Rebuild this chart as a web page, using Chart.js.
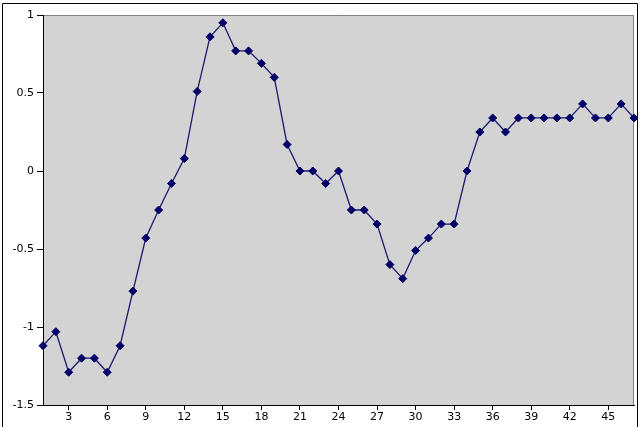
<!DOCTYPE html>
<html>
<head>
<meta charset="utf-8">
<script src="https://cdn.jsdelivr.net/npm/chart.js@4"></script>
<style>
  html, body { margin: 0; padding: 0; background: #fff; }
  #wrap { width: 640px; height: 427px; position: relative; }
</style>
</head>
<body>
<div id="wrap"><canvas id="myChart" width="640" height="427"></canvas></div>
<script>
// data
var categories = [];
for (var i = 1; i <= 47; i++) categories.push(String(i));

var values = [
    -1.12, -1.03, -1.29, -1.20, -1.20, -1.29, -1.12, -0.77, -0.43, -0.25,
    -0.08, 0.08, 0.51, 0.86, 0.95, 0.77, 0.77, 0.69, 0.60, 0.17,
    0, 0, -0.08, 0, -0.25, -0.25, -0.34, -0.60, -0.69, -0.51,
    -0.43, -0.34, -0.34, 0, 0.25, 0.34, 0.25, 0.34, 0.34, 0.34,
    0.34, 0.34, 0.43, 0.34, 0.34, 0.43, 0.34
];

var yTicks = [1, 0.5, 0, -0.5, -1, -1.5];

// gray plot area, frame and outer border
var backdrop = {
    id: 'backdrop',
    beforeDraw: function(chart) {
        var c = chart.ctx, a = chart.chartArea;
        c.save();
        c.fillStyle = '#d3d3d3';
        c.fillRect(a.left, a.top, a.right - a.left, a.bottom - a.top);
        c.strokeStyle = '#808080';
        c.lineWidth = 1;
        c.beginPath();
        c.moveTo(a.left, a.top + 0.5);
        c.lineTo(a.right - 0.5, a.top + 0.5);
        c.lineTo(a.right - 0.5, a.bottom);
        c.stroke();
        c.strokeStyle = '#000';
        c.beginPath();
        c.moveTo(2.5, 427);
        c.lineTo(2.5, 3.5);
        c.lineTo(637.5, 3.5);
        c.lineTo(637.5, 427);
        c.stroke();
        c.restore();
    }
};

var ctx = document.getElementById('myChart').getContext('2d');
var myChart = new Chart(ctx, {
    type: 'line',
    data: {
        labels: categories,
        datasets: [{
            data: values,
            borderColor: '#1a1a70',
            borderWidth: 1.3,
            backgroundColor: '#000066',
            pointBackgroundColor: '#000066',
            pointBorderColor: '#000066',
            pointStyle: 'rectRot',
            pointRadius: 4,
            pointBorderWidth: 1,
            tension: 0
        }]
    },
    options: {
        responsive: false,
        animation: false,
        devicePixelRatio: 1,
        layout: { padding: { left: 0, top: 15, right: 6, bottom: 0 } },
        plugins: { legend: { display: false }, tooltip: { enabled: false } },
        scales: {
            x: {
                offset: false,
                afterFit: function(s) { s.height = 22; },
                border: { color: '#000', width: 1 },
                grid: {
                    drawOnChartArea: false,
                    tickLength: 5,
                    color: function(c) { return (c.index + 1) % 3 === 0 ? '#000' : 'rgba(0,0,0,0)'; }
                },
                ticks: {
                    autoSkip: false,
                    maxRotation: 0,
                    padding: 1,
                    color: '#000',
                    font: { family: 'DejaVu Sans', size: 11 },
                    callback: function(v, i) { return (i + 1) % 3 === 0 ? categories[i] : ''; }
                }
            },
            y: {
                min: -1.5,
                max: 1,
                afterFit: function(s) { s.width = 43; },
                afterBuildTicks: function(s) {
                    s.ticks = yTicks.map(function(v) { return { value: v }; });
                },
                border: { color: '#000', width: 1 },
                grid: { drawOnChartArea: false, tickLength: 6, color: '#000' },
                ticks: {
                    padding: 3,
                    color: '#000',
                    font: { family: 'DejaVu Sans', size: 11 },
                    callback: function(v) { return String(v); }
                }
            }
        }
    },
    plugins: [backdrop]
});
</script>
</body>
</html>
